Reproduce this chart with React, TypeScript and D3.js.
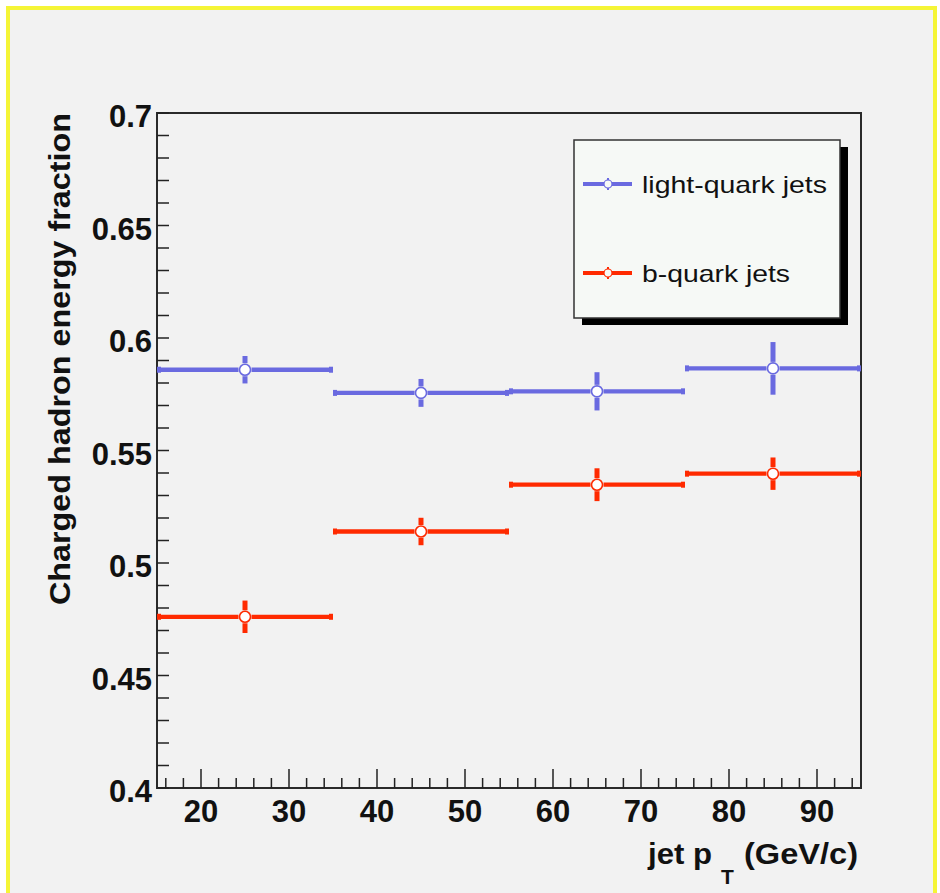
import React from "react";
import * as d3 from "d3";

// Bin edges in jet pT (GeV/c)
const binEdges = [15, 35, 55, 75, 95];

// Charged hadron energy fraction per bin
const lightValues = [0.5859, 0.5756, 0.5763, 0.5865];
const lightErrors = [0.0061, 0.0062, 0.0085, 0.0117];
const bValues = [0.4761, 0.514, 0.5348, 0.5397];
const bErrors = [0.0072, 0.0061, 0.0073, 0.0072];

const xTickValues = [20, 30, 40, 50, 60, 70, 80, 90];
const yTickValues = [0.4, 0.45, 0.5, 0.55, 0.6, 0.65, 0.7];
const yTickLabels = ["0.4", "0.45", "0.5", "0.55", "0.6", "0.65", "0.7"];

const seriesNames = ["light-quark jets", "b-quark jets"];
const seriesColors = ["#6a6ae0", "#ff2a00"];

const W = 940;
const H = 893;
const frame = { left: 157, right: 861, top: 113, bottom: 788 };

const x = d3.scaleLinear().domain([15, 95]).range([frame.left, frame.right]);
const y = d3.scaleLinear().domain([0.4, 0.7]).range([frame.bottom, frame.top]);

const FONT = "'Liberation Sans', Arial, Helvetica, sans-serif";

function Series({ values, errors, color }: { values: number[]; errors: number[]; color: string }) {
  const r = 5.5;
  const gap = 6.5;
  return (
    <g>
      {values.map((v, i) => {
        const x0 = x(binEdges[i]);
        const x1 = x(binEdges[i + 1]);
        const xc = x((binEdges[i] + binEdges[i + 1]) / 2);
        const yc = y(v);
        const yTop = y(v + errors[i]);
        const yBot = y(v - errors[i]);
        return (
          <g key={i}>
            <line x1={x0} x2={xc - gap} y1={yc} y2={yc} stroke={color} strokeWidth={4.3} />
            <line x1={xc + gap} x2={x1} y1={yc} y2={yc} stroke={color} strokeWidth={4.3} />
            <rect x={x0} y={yc - 3} width={4} height={6} fill={color} />
            <rect x={x1 - 4} y={yc - 3} width={4} height={6} fill={color} />
            <line x1={xc} x2={xc} y1={yTop} y2={yc - gap} stroke={color} strokeWidth={5} />
            <line x1={xc} x2={xc} y1={yc + gap} y2={yBot} stroke={color} strokeWidth={5} />
            <circle cx={xc} cy={yc} r={r} fill="#ffffff" stroke={color} strokeWidth={1.6} />
          </g>
        );
      })}
    </g>
  );
}

export default function App() {
  const xMinor = d3.range(16, 95, 2).filter((t) => t % 10 !== 0);
  const yMinor = d3.range(0, 31).map((k) => 0.4 + k * 0.01);

  const legend = { x: 574, y: 140, w: 266, h: 178 };
  const legendRows = [184, 273];

  return (
    <div style={{ position: "absolute", left: 0, top: 0 }}>
      <svg width={W} height={H} style={{ display: "block" }}>
        <rect x={0} y={0} width={W} height={H} fill="#ffffff" />
        <rect x={8} y={8} width={927} height={920} fill="#f2f2f2" stroke="#f5f536" strokeWidth={4} />

        {/* frame */}
        <rect
          x={frame.left}
          y={frame.top}
          width={frame.right - frame.left}
          height={frame.bottom - frame.top}
          fill="#f2f2f2"
          stroke="#2a2a2a"
          strokeWidth={2}
        />

        {/* y ticks */}
        {yMinor.map((t, i) => (
          <line key={"ym" + i} x1={frame.left} x2={frame.left + 12} y1={y(t)} y2={y(t)} stroke="#222" strokeWidth={1.5} />
        ))}
        {yTickValues.map((t, i) => (
          <text
            key={"yl" + i}
            x={152}
            y={y(t) + 14}
            textAnchor="end"
            fontFamily={FONT}
            fontWeight="bold"
            fontSize={31}
            fill="#111"
          >
            {yTickLabels[i]}
          </text>
        ))}

        {/* x ticks */}
        {xMinor.map((t, i) => (
          <line key={"xm" + i} x1={x(t)} x2={x(t)} y1={frame.bottom} y2={frame.bottom - 10} stroke="#222" strokeWidth={1.5} />
        ))}
        {xTickValues.map((t, i) => (
          <g key={"xt" + i}>
            <line x1={x(t)} x2={x(t)} y1={frame.bottom} y2={frame.bottom - 19} stroke="#222" strokeWidth={1.5} />
            <text
              x={x(t)}
              y={822}
              textAnchor="middle"
              fontFamily={FONT}
              fontWeight="bold"
              fontSize={31}
              fill="#111"
            >
              {t}
            </text>
          </g>
        ))}

        {/* axis titles */}
        <text
          transform={`translate(70, ${frame.top}) rotate(-90)`}
          textAnchor="end"
          fontFamily={FONT}
          fontWeight="bold"
          fontSize={30}
          fill="#111"
          textLength={492}
          lengthAdjust="spacingAndGlyphs"
        >
          Charged hadron energy fraction
        </text>
        <text x={648} y={864} fontFamily={FONT} fontWeight="bold" fontSize={29} fill="#111" textLength={64} lengthAdjust="spacingAndGlyphs">
          jet p
        </text>
        <text x={721} y={884} fontFamily={FONT} fontWeight="bold" fontSize={21} fill="#111">
          T
        </text>
        <text x={744} y={864} fontFamily={FONT} fontWeight="bold" fontSize={29} fill="#111" textLength={114} lengthAdjust="spacingAndGlyphs">
          (GeV/c)
        </text>

        {/* data */}
        <Series values={lightValues} errors={lightErrors} color={seriesColors[0]} />
        <Series values={bValues} errors={bErrors} color={seriesColors[1]} />

        {/* legend */}
        <rect x={legend.x + 8} y={legend.y + 7} width={legend.w} height={legend.h} fill="#000" />
        <rect x={legend.x} y={legend.y} width={legend.w} height={legend.h} fill="#f6f9f6" stroke="#333" strokeWidth={1.5} />
        {seriesNames.map((name, i) => {
          const ry = legendRows[i];
          const c = seriesColors[i];
          return (
            <g key={name}>
              <line x1={583} x2={632} y1={ry} y2={ry} stroke={c} strokeWidth={4} />
              <line x1={608} x2={608} y1={ry - 6} y2={ry + 6} stroke={c} strokeWidth={2} />
              <circle cx={608} cy={ry} r={4} fill="#f6f9f6" stroke={c} strokeWidth={1.2} />
              <text
                x={642}
                y={ry + 9}
                fontFamily={FONT}
                fontSize={24}
                fill="#111"
                textLength={i === 0 ? 185 : 148}
                lengthAdjust="spacingAndGlyphs"
              >
                {name}
              </text>
            </g>
          );
        })}
      </svg>
    </div>
  );
}
